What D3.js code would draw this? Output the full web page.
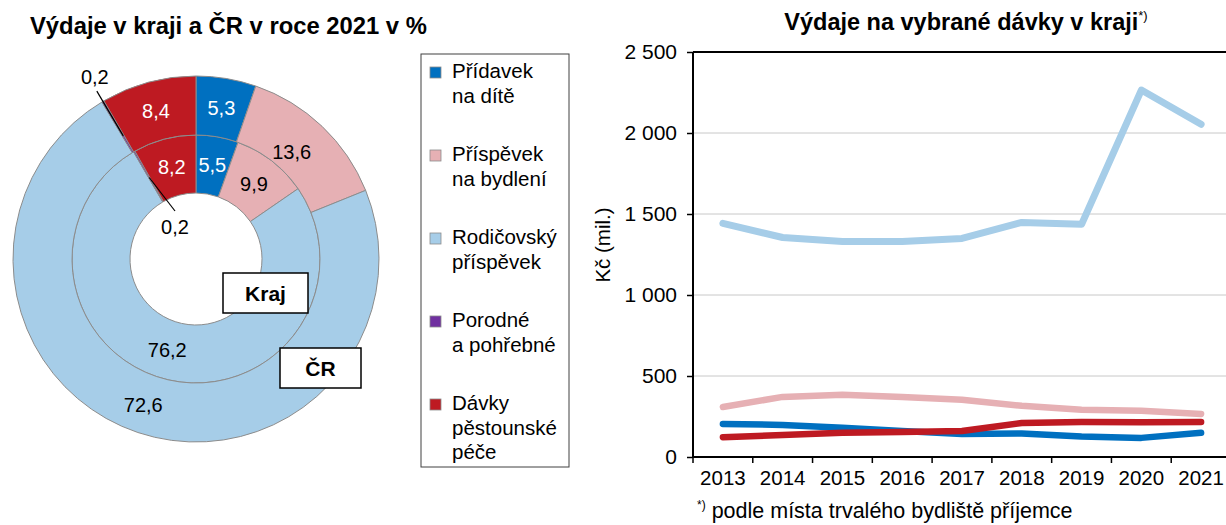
<!DOCTYPE html>
<html><head><meta charset="utf-8">
<script src="https://cdn.jsdelivr.net/npm/d3@7"></script>
<style>
html,body{margin:0;padding:0;background:#fff;}
svg{display:block;font-family:"Liberation Sans",Arial,sans-serif;}
</style></head>
<body>
<svg id="chart" width="1226" height="525"></svg>
<script>
// ---- data ----
const categories = ["Přídavek na dítě", "Příspěvek na bydlení", "Rodičovský příspěvek", "Porodné a pohřebné", "Dávky pěstounské péče"];
const legendLines = [["Přídavek", "na dítě"], ["Příspěvek", "na bydlení"], ["Rodičovský", "příspěvek"], ["Porodné", "a pohřebné"], ["Dávky", "pěstounské", "péče"]];
const colors = ["#0070c0", "#e6b0b4", "#a6cde8", "#7030a0", "#be1a22"];
const krajShares = [5.5, 9.9, 76.2, 0.2, 8.2];
const crShares = [5.3, 13.6, 72.6, 0.2, 8.4];
const years = ["2013", "2014", "2015", "2016", "2017", "2018", "2019", "2020", "2021"];
const pridavek = [204, 198, 180, 161, 142, 145, 127, 118, 149];
const bydleni = [309, 371, 384, 371, 353, 316, 291, 285, 266];
const rodicovsky = [1442, 1355, 1330, 1330, 1349, 1448, 1436, 2265, 2054];
const pestounske = [122, 136, 149, 155, 161, 210, 216, 215, 216];
const yTicks = [0, 500, 1000, 1500, 2000, 2500];

const svg = d3.select("#chart");
const loc = d3.formatLocale({decimal: ",", thousands: " ", grouping: [3], currency: ["", ""]});
const fmtPct = loc.format(".1f");
const fmtNum = loc.format(",d");

// ---- left title ----
svg.append("text").attr("x", 30).attr("y", 34).attr("font-size", 23.8).attr("font-weight", "bold").attr("fill", "#000")
  .text("Výdaje v kraji a ČR v roce 2021 v %");

// ---- donut ----
const cx = 196, cy = 259;
const rHole = 66, rMid = 124, rOut = 183;
const pie = d3.pie().sort(null).value(d => d);
const g = svg.append("g").attr("transform", `translate(${cx},${cy})`);
const rings = [
  {data: krajShares, inner: rHole, outer: rMid, nudge: {2: [-8, -2]}},
  {data: crShares, inner: rMid, outer: rOut, nudge: {1: [-10, 4], 2: [-4, 0]}}
];
rings.forEach(ring => {
  const arc = d3.arc().innerRadius(ring.inner).outerRadius(ring.outer);
  const arcs = pie(ring.data);
  g.selectAll(null).data(arcs).enter().append("path")
    .attr("d", arc).attr("fill", (d, i) => colors[i])
    .attr("stroke", "#8c8c8c").attr("stroke-width", 1);
  const off = d => ring.nudge[d.index] || [0, 0];
  g.selectAll(null).data(arcs.filter(d => d.data >= 1)).enter().append("text")
    .attr("x", d => arc.centroid(d)[0] + off(d)[0]).attr("y", d => arc.centroid(d)[1] + 7 + off(d)[1])
    .attr("text-anchor", "middle").attr("font-size", 20)
    .attr("fill", d => (d.index === 0 || d.index === 4) ? "#fff" : "#000")
    .text(d => fmtPct(d.data));
  ring.arcs = arcs;
});
// small slice labels (0,2) with leader lines
{
  const outerArc = rings[1].arcs[3];
  const a1 = (outerArc.startAngle + outerArc.endAngle) / 2;
  const p = r => [Math.sin(a1) * r, -Math.cos(a1) * r];
  const s = p(rOut - 40), e = p(rOut + 12);
  g.append("line").attr("x1", s[0]).attr("y1", s[1]).attr("x2", e[0]).attr("y2", e[1]).attr("stroke", "#000").attr("stroke-width", 1.2);
  g.append("text").attr("x", e[0] - 2).attr("y", e[1] - 7).attr("text-anchor", "middle").attr("font-size", 20).text(fmtPct(outerArc.data));
  const innerArc = rings[0].arcs[3];
  const a2 = (innerArc.startAngle + innerArc.endAngle) / 2;
  const q = r => [Math.sin(a2) * r, -Math.cos(a2) * r];
  const s2 = q(rHole + 28);
  g.append("line").attr("x1", s2[0]).attr("y1", s2[1]).attr("x2", -21).attr("y2", -48).attr("stroke", "#000").attr("stroke-width", 1.2);
  g.append("text").attr("x", -21).attr("y", -25).attr("text-anchor", "middle").attr("font-size", 20).text(fmtPct(innerArc.data));
}
// ring name boxes
[[223, 273, 85, 40, "Kraj"], [280, 348, 81, 40, "ČR"]].forEach(b => {
  svg.append("rect").attr("x", b[0]).attr("y", b[1]).attr("width", b[2]).attr("height", b[3])
    .attr("fill", "#fff").attr("stroke", "#000").attr("stroke-width", 1.5);
  svg.append("text").attr("x", b[0] + b[2] / 2).attr("y", b[1] + 28).attr("text-anchor", "middle")
    .attr("font-size", 21).attr("font-weight", "bold").text(b[4]);
});

// ---- legend ----
const lg = svg.append("g");
lg.append("rect").attr("x", 421).attr("y", 54).attr("width", 148).attr("height", 413)
  .attr("fill", "#fff").attr("stroke", "#404040").attr("stroke-width", 1);
legendLines.forEach((lines, i) => {
  const y0 = 78 + i * 83;
  lg.append("rect").attr("x", 430).attr("y", y0 - 11).attr("width", 11).attr("height", 11)
    .attr("fill", colors[i]).attr("stroke", "#8c8c8c").attr("stroke-width", 0.8);
  lines.forEach((t, j) => {
    lg.append("text").attr("x", 452).attr("y", y0 + j * 24.5).attr("font-size", 20.5).text(t);
  });
});

// ---- line chart ----
const x0 = 693, x1 = 1231, yTop = 52, yBot = 457;
const x = d3.scaleBand().domain(years).range([x0, x1]).padding(0);
const y = d3.scaleLinear().domain([0, 2500]).range([yBot, yTop]);

svg.append("text").attr("x", 966).attr("y", 30).attr("text-anchor", "middle").attr("font-size", 23.5).attr("font-weight", "bold")
  .text("Výdaje na vybrané dávky v kraji")
  .append("tspan").attr("font-size", 13).attr("font-weight", "normal").attr("dy", -10).text("*)");

// gridlines
svg.append("g").selectAll("line").data(yTicks.filter(v => v > 0 && v < 2500)).enter().append("line")
  .attr("x1", x0).attr("x2", x1).attr("y1", d => y(d)).attr("y2", d => y(d))
  .attr("stroke", "#c8c8c8").attr("stroke-width", 1);
// top border
svg.append("line").attr("x1", x0).attr("x2", x1).attr("y1", yTop).attr("y2", yTop).attr("stroke", "#000").attr("stroke-width", 2);

// y axis
const yAxis = svg.append("g").attr("transform", `translate(${x0},0)`)
  .call(d3.axisLeft(y).tickValues(yTicks).tickFormat(fmtNum).tickSize(6).tickPadding(10));
yAxis.select(".domain").attr("stroke", "#000").attr("stroke-width", 2).attr("d", `M0,${yTop}V${yBot}`);
yAxis.selectAll(".tick line").attr("stroke", "#000").attr("stroke-width", 1.5);
yAxis.selectAll(".tick text").attr("font-size", 21).attr("fill", "#000").attr("font-family", "Liberation Sans, Arial, sans-serif");

// x axis
const xAxis = svg.append("g").attr("transform", `translate(0,${yBot})`)
  .call(d3.axisBottom(x).tickSize(0).tickPadding(13));
xAxis.select(".domain").attr("stroke", "#000").attr("stroke-width", 2).attr("d", `M${x0},0H${x1}`);
xAxis.selectAll(".tick text").attr("font-size", 20.5).attr("fill", "#000").attr("font-family", "Liberation Sans, Arial, sans-serif");
xAxis.selectAll(null).data(years.concat(["end"])).enter().append("line")
  .attr("x1", (d, i) => x0 + i * x.bandwidth()).attr("x2", (d, i) => x0 + i * x.bandwidth())
  .attr("y1", 0).attr("y2", 6).attr("stroke", "#000").attr("stroke-width", 1.5);

// y title
svg.append("text").attr("transform", "translate(610,245) rotate(-90)").attr("text-anchor", "middle").attr("font-size", 20.5).text("Kč (mil.)");

// lines
const line = d3.line().x((d, i) => x(years[i]) + x.bandwidth() / 2).y(d => y(d));
[[rodicovsky, colors[2], 7], [bydleni, colors[1], 6.5], [pridavek, colors[0], 6.5], [pestounske, colors[4], 6.5]].forEach(s => {
  svg.append("path").datum(s[0]).attr("d", line).attr("fill", "none").attr("stroke", s[1])
    .attr("stroke-width", s[2]).attr("stroke-linecap", "round").attr("stroke-linejoin", "round");
});

// footnote
const fn = svg.append("text").attr("x", 697).attr("y", 518).attr("font-size", 21.5);
fn.append("tspan").attr("font-size", 12).attr("dy", -9).text("*)");
fn.append("tspan").attr("dy", 9).text(" podle místa trvalého bydliště příjemce");
</script>
</body></html>
